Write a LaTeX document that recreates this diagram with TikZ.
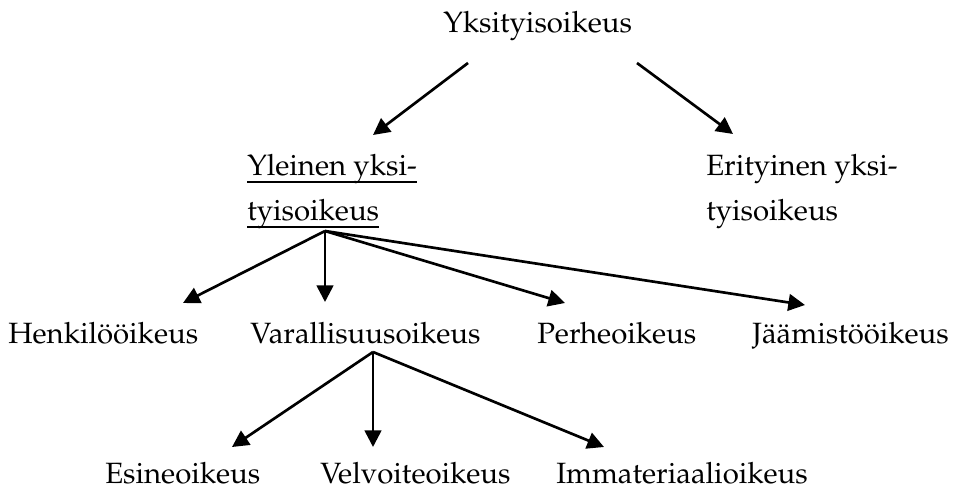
\documentclass[tikz,border=0pt]{standalone}
\usepackage[T1]{fontenc}
\usepackage{mathpazo}
\usepackage{tikz}
\usetikzlibrary{arrows.meta,positioning,calc}

\begin{document}
\begin{tikzpicture}[x=0.75pt,y=-0.75pt,
    lbl/.style={anchor=base west,inner sep=0pt,font=\fontsize{22}{26}\selectfont},
    arr/.style={-{Triangle[length=12.5pt,width=12.5pt]},line width=2pt},
    uline/.style={line width=1.5pt}]
    \useasboundingbox (0,0) rectangle (955,491);
    % Top
    \node[lbl] (yks) at (443,33) {Yksityisoikeus};
    % Second level
    \node[lbl] (yl1) at (247,176) {Yleinen yksi-};
    \node[lbl] (yl2) at (247,221) {tyisoikeus};
    \node[lbl] (er1) at (706,176) {Erityinen yksi-};
    \node[lbl] (er2) at (706,221) {tyisoikeus};
    \draw[uline] ([yshift=-4.5pt]yl1.base west) -- ([yshift=-4.5pt]yl1.base east);
    \draw[uline] ([yshift=-4.5pt]yl2.base west) -- ([yshift=-4.5pt]yl2.base east);
    % Third level
    \node[lbl] (henk) at (8,343) {Henkil\"o\"oikeus};
    \node[lbl] (var) at (250,343) {Varallisuusoikeus};
    \node[lbl] (per) at (537,343) {Perheoikeus};
    \node[lbl] (jaa) at (752,343) {J\"a\"amist\"o\"oikeus};
    % Fourth level
    \node[lbl] (esi) at (105,483) {Esineoikeus};
    \node[lbl] (vel) at (320,483) {Velvoiteoikeus};
    \node[lbl] (imm) at (556,483) {Immateriaalioikeus};
    % Arrows from top
    \draw[arr] ([shift={(25,30)}]yks.base west) -- ([shift={(126,-41)}]yl1.base west);
    \draw[arr] ([shift={(194,30)}]yks.base west) -- ([shift={(27,-42)}]er1.base west);
    % Arrows from Yleinen yksityisoikeus
    \coordinate (ylfork) at ([shift={(78,10)}]yl2.base west);
    \draw[arr] (ylfork) -- ([shift={(175,-40)}]henk.base west);
    \draw[arr] (ylfork) -- ([shift={(75,-41)}]var.base west);
    \draw[arr] (ylfork) -- ([shift={(28,-40)}]per.base west);
    \draw[arr] (ylfork) -- ([shift={(53,-38)}]jaa.base west);
    % Arrows from Varallisuusoikeus
    \coordinate (varfork) at ([shift={(123,9)}]var.base west);
    \draw[arr] (varfork) -- ([shift={(127,-36)}]esi.base west);
    \draw[arr] (varfork) -- ([shift={(53,-36)}]vel.base west);
    \draw[arr] (varfork) -- ([shift={(48,-36)}]imm.base west);
\end{tikzpicture}
\end{document}
